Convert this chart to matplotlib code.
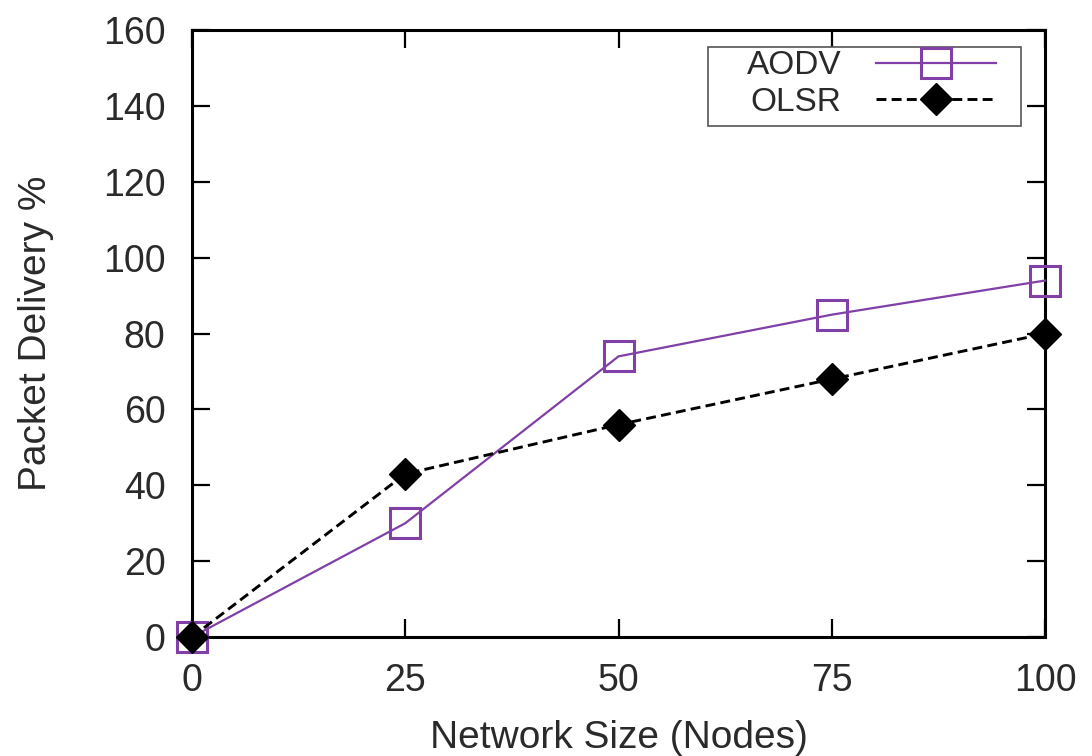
import matplotlib
matplotlib.use("Agg")
import matplotlib.pyplot as plt
from matplotlib.patches import Rectangle

plt.rcParams['font.family'] = ['Liberation Sans', 'DejaVu Sans']

nodes = [0, 25, 50, 75, 100]
aodv = [0, 30, 74, 85, 94]
olsr = [0, 43, 56, 68, 80]
x_ticks = [0, 25, 50, 75, 100]
y_ticks = [0, 20, 40, 60, 80, 100, 120, 140, 160]

purple = '#8040a8'
text_color = '#2a2a2a'

fig = plt.figure(figsize=(10.92, 7.56), dpi=100)
ax = fig.add_axes([0.1758, 0.1574, 0.957 - 0.1758, 0.960 - 0.1574])

ax.plot(nodes, aodv, color=purple, lw=1.6, marker='s', markersize=21.5,
        markerfacecolor='none', markeredgecolor=purple, markeredgewidth=2.2,
        label='AODV', zorder=3, clip_on=False)
ax.plot(nodes, olsr, color='black', lw=2.1, linestyle=(0, (3.4, 1.8)), marker='D',
        markersize=16.5, markerfacecolor='black', markeredgecolor='black',
        label='OLSR', zorder=4, clip_on=False)

ax.set_xlim(0, 100)
ax.set_ylim(0, 160)
ax.set_xticks(x_ticks)
ax.set_yticks(y_ticks)
ax.tick_params(direction='in', length=13, width=1.6, labelsize=27,
               top=True, right=True, labelcolor=text_color)
ax.tick_params(axis='x', pad=18.5)
ax.tick_params(axis='y', pad=19)
for s in ax.spines.values():
    s.set_linewidth(2.2)

ax.set_xlabel('Network Size (Nodes)', fontsize=28, labelpad=15, color=text_color)
ax.set_ylabel('Packet Delivery %', fontsize=28, labelpad=35, color=text_color)

# legend box (gnuplot-style key: text first, sample on the right)
ax.add_patch(Rectangle((0.605, 0.842), 0.367, 0.130, transform=ax.transAxes,
                       fill=True, facecolor='white', edgecolor='#555555',
                       linewidth=1.2, zorder=5))
leg = ax.legend(loc='upper right', bbox_to_anchor=(0.9426, 0.967), fontsize=24,
                markerfirst=False, handlelength=3.6, frameon=False,
                borderpad=0, labelspacing=0.17, handletextpad=1.05,
                borderaxespad=0)
leg.set_zorder(6)
for t in leg.get_texts():
    t.set_color(text_color)

fig.savefig('out.png', dpi=100)
